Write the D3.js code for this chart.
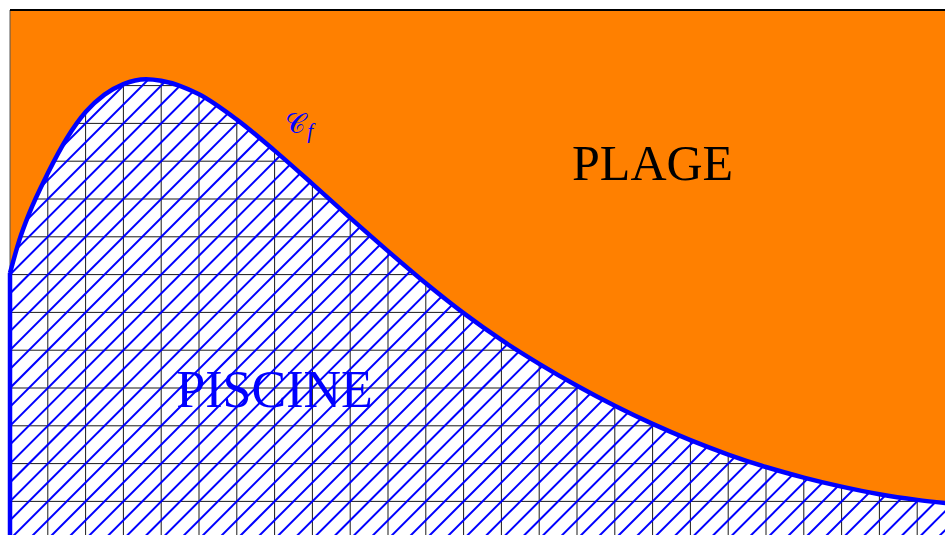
<!DOCTYPE html>
<html>
<head>
<meta charset="utf-8">
<script src="https://cdn.jsdelivr.net/npm/d3@7"></script>
<style>
  html, body { margin: 0; padding: 0; background: #fff; }
  svg { display: block; }
</style>
</head>
<body>
<svg id="chart" width="945" height="535"></svg>
<script>
'use strict';

// curve C_f, in grid units (1 unit = 1 cm on the sheet)
const curveX = [0, 0.25, 0.5, 1, 1.5, 2, 2.5, 3, 3.6, 4, 5, 6, 7, 8, 9, 10, 11, 12, 13, 14, 15, 16, 17, 18, 19, 20, 21, 22, 23, 24, 25];
const curveY = [7.04, 7.92, 8.6, 9.68, 10.6, 11.3, 11.76, 12.04, 12.17, 12.13, 11.77, 11.1, 10.28, 9.4, 8.5, 7.62, 6.77, 5.98, 5.27, 4.64, 4.06, 3.53, 3.05, 2.62, 2.24, 1.91, 1.63, 1.39, 1.19, 1.04, 0.93];

// grid
const gridX = d3.range(0, 26);
const gridY = d3.range(0, 15);

const labels = ['PLAGE', 'PISCINE'];

const unit = 37.8;
const origin = { x: 10, y: 10 };
const width = 945;
const height = 535;
const orange = '#ff8000';
const blue = '#0000ff';

const svg = d3.select('#chart');

const x = d3.scaleLinear().domain([0, 1]).range([origin.x, origin.x + unit]);
const y = d3.scaleLinear().domain([14, 13]).range([origin.y, origin.y + unit]);

const pts = curveX.map((d, i) => [d, curveY[i]]);

// background (plage)
svg.append('rect')
  .attr('x', origin.x)
  .attr('y', origin.y)
  .attr('width', width - origin.x)
  .attr('height', height - origin.y)
  .attr('fill', orange);

// area under the curve (piscine)
const area = d3.area()
  .x(d => x(d[0]))
  .y0(y(-1))
  .y1(d => y(d[1]))
  .curve(d3.curveMonotoneX);

svg.append('clipPath')
  .attr('id', 'under')
  .append('path')
  .attr('d', area(pts));

svg.append('path')
  .attr('d', area(pts))
  .attr('fill', '#fff');

const inside = svg.append('g').attr('clip-path', 'url(#under)');

// grid lines
inside.selectAll('.vgrid')
  .data(gridX)
  .enter()
  .append('line')
  .attr('class', 'vgrid')
  .attr('x1', d => x(d))
  .attr('x2', d => x(d))
  .attr('y1', y(14))
  .attr('y2', y(-1))
  .attr('stroke', '#000')
  .attr('stroke-opacity', 0.9)
  .attr('stroke-width', 1);

inside.selectAll('.hgrid')
  .data(gridY)
  .enter()
  .append('line')
  .attr('class', 'hgrid')
  .attr('x1', x(0))
  .attr('x2', x(26))
  .attr('y1', d => y(d))
  .attr('y2', d => y(d))
  .attr('stroke', '#000')
  .attr('stroke-opacity', 0.9)
  .attr('stroke-width', 1);

// hatching: lines v = u - c, every half unit
const hatch = d3.range(-15, 26, 0.5);
inside.selectAll('.hatch')
  .data(hatch)
  .enter()
  .append('line')
  .attr('class', 'hatch')
  .attr('x1', d => x(d - 1))
  .attr('y1', y(-1))
  .attr('x2', d => x(d + 15))
  .attr('y2', y(15))
  .attr('stroke', blue)
  .attr('stroke-width', 2);

// left edge and top border
svg.append('line')
  .attr('x1', origin.x)
  .attr('x2', origin.x)
  .attr('y1', origin.y)
  .attr('y2', height)
  .attr('stroke', '#555')
  .attr('stroke-width', 1);

svg.append('line')
  .attr('x1', origin.x)
  .attr('x2', width)
  .attr('y1', origin.y)
  .attr('y2', origin.y)
  .attr('stroke', '#000')
  .attr('stroke-width', 2);

// curve C_f + vertical edge
const line = d3.line()
  .x(d => x(d[0]))
  .y(d => y(d[1]))
  .curve(d3.curveMonotoneX);

svg.append('path')
  .attr('d', line(pts))
  .attr('fill', 'none')
  .attr('stroke', blue)
  .attr('stroke-width', 4.5);

svg.append('line')
  .attr('x1', x(0))
  .attr('x2', x(0))
  .attr('y1', y(curveY[0]))
  .attr('y2', height + 5)
  .attr('stroke', blue)
  .attr('stroke-width', 4.5);

// labels
svg.append('text')
  .attr('x', x(17.0))
  .attr('y', y(9.5))
  .attr('text-anchor', 'middle')
  .attr('font-family', 'Liberation Serif, serif')
  .attr('font-size', 50)
  .attr('fill', '#000')
  .text(labels[0]);

svg.append('text')
  .attr('x', x(7.0))
  .attr('y', y(3.5))
  .attr('text-anchor', 'middle')
  .attr('font-family', 'Liberation Serif, serif')
  .attr('font-size', 52)
  .attr('fill', blue)
  .text(labels[1]);

const cf = svg.append('text')
  .attr('x', x(7.28))
  .attr('y', y(10.75))
  .attr('font-family', 'DejaVu Serif, serif')
  .attr('font-size', 28)
  .attr('fill', blue);
cf.append('tspan').text('\u{1D49E}');
cf.append('tspan')
  .attr('dy', 5)
  .attr('dx', 2)
  .attr('font-size', 21)
  .attr('font-style', 'italic')
  .attr('font-family', 'Liberation Serif, serif')
  .text('f');
</script>
</body>
</html>
